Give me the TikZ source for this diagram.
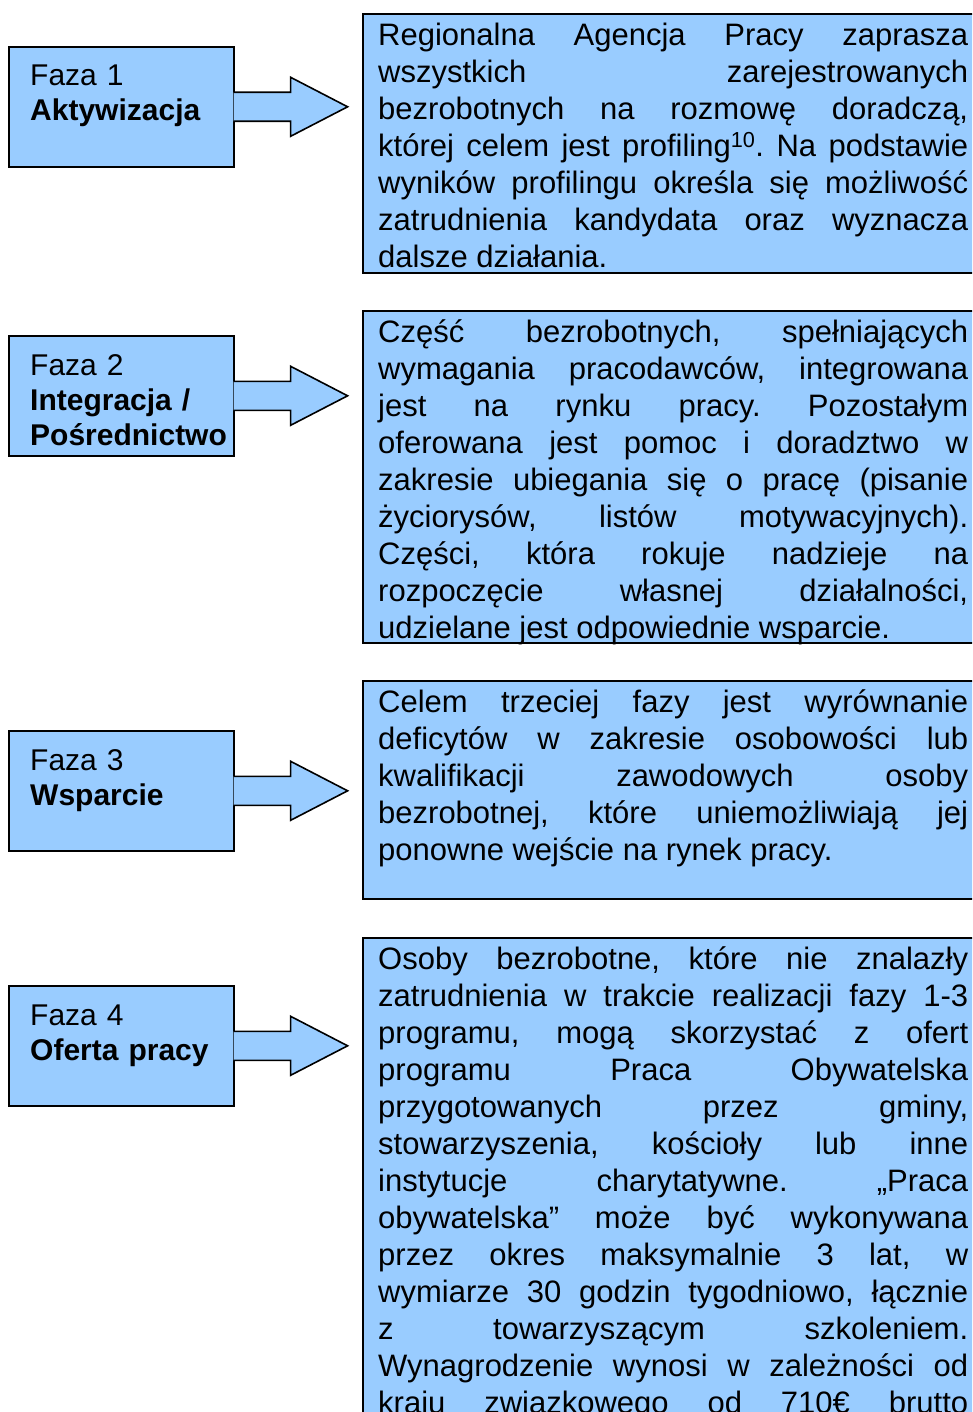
\documentclass[tikz,border=0pt]{standalone}
\usepackage{fontspec}
\setmainfont{Liberation Sans}
\definecolor{jasnoniebieski}{RGB}{153,204,255}
\tolerance=10000
\hyphenpenalty=10000
\hbadness=10000
\frenchspacing

\begin{document}
\begin{tikzpicture}[x=1pt,y=-1pt,
		box/.style={draw=black,line width=1.6pt,fill=jasnoniebieski,anchor=north west,inner sep=0pt},
		opis/.style={anchor=base west,inner sep=0pt,text width=590pt,align=justify,font=\fontsize{31}{37}\selectfont},
		fazatxt/.style={anchor=base west,inner sep=0pt,text width=200pt,align=left,font=\fontsize{30}{35}\selectfont}]
	\clip (0,0) rectangle (972,1412);
	\fill[white] (0,0) rectangle (972,1412);
	\foreach \n/\y/\t in {1/46/{Faza 1\\\textbf{Aktywizacja}},
			2/335/{Faza 2\\\textbf{Integracja /}\\\textbf{Pośrednictwo}},
			3/730/{Faza 3\\\textbf{Wsparcie}},
			4/985/{Faza 4\\\textbf{Oferta pracy}}}{
		\node[box,minimum width=225pt,minimum height=120pt] (l\n) at (8,\y) {};
		\node[fazatxt] (f\n) at ([shift={(22,40)}]l\n.north west) {\t};
		\filldraw[fill=jasnoniebieski,line width=1.6pt,line join=miter]
			([shift={(-1,-14.5)}]l\n.east) -- ++(57,0) -- ++(0,-15)
			-- ([shift={(113,0)}]l\n.east)
			-- ([shift={(56,29.5)}]l\n.east) -- ++(0,-15) -- ++(-57,0);
	}
	\node[box,minimum width=640pt,minimum height=259pt] (r1) at (362,13) {};
	\node[opis] (t1) at ([shift={(16,33)}]r1.north west) {%
		Regionalna Agencja Pracy zaprasza\linebreak
		wszystkich zarejestrowanych\linebreak
		bezrobotnych na rozmowę doradczą,\linebreak
		której celem jest profiling\textsuperscript{10}. Na podstawie\linebreak
		wyników profilingu określa się możliwość\linebreak
		zatrudnienia kandydata oraz wyznacza\linebreak
		dalsze działania.};
	\node[box,minimum width=640pt,minimum height=332pt] (r2) at (362,310) {};
	\node[opis] (t2) at ([shift={(16,32)}]r2.north west) {%
		Część bezrobotnych, spełniających\linebreak
		wymagania pracodawców, integrowana\linebreak
		jest na rynku pracy. Pozostałym\linebreak
		oferowana jest pomoc i doradztwo w\linebreak
		zakresie ubiegania się o pracę (pisanie\linebreak
		życiorysów, listów motywacyjnych).\linebreak
		Części, która rokuje nadzieje na\linebreak
		rozpoczęcie własnej działalności,\linebreak
		udzielane jest odpowiednie wsparcie.};
	\node[box,minimum width=640pt,minimum height=218pt] (r3) at (362,680) {};
	\node[opis] (t3) at ([shift={(16,32)}]r3.north west) {%
		Celem trzeciej fazy jest wyrównanie\linebreak
		deficytów w zakresie osobowości lub\linebreak
		kwalifikacji zawodowych osoby\linebreak
		bezrobotnej, które uniemożliwiają jej\linebreak
		ponowne wejście na rynek pracy.};
	\node[box,minimum width=640pt,minimum height=520pt] (r4) at (362,937) {};
	\node[opis] (t4) at ([shift={(16,32)}]r4.north west) {%
		Osoby bezrobotne, które nie znalazły\linebreak
		zatrudnienia w trakcie realizacji fazy 1-3\linebreak
		programu, mogą skorzystać z ofert\linebreak
		programu Praca Obywatelska\linebreak
		przygotowanych przez gminy,\linebreak
		stowarzyszenia, kościoły lub inne\linebreak
		instytucje charytatywne. „Praca\linebreak
		obywatelska” może być wykonywana\linebreak
		przez okres maksymalnie 3 lat, w\linebreak
		wymiarze 30 godzin tygodniowo, łącznie\linebreak
		z towarzyszącym szkoleniem.\linebreak
		Wynagrodzenie wynosi w zależności od\linebreak
		kraju związkowego od 710€ brutto\linebreak};
\end{tikzpicture}
\end{document}
